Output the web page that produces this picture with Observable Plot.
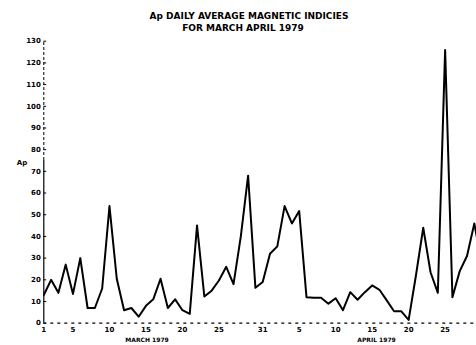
<!DOCTYPE html>
<html><head><meta charset="utf-8">
<script src="https://cdn.jsdelivr.net/npm/d3@7"></script>
<script src="https://cdn.jsdelivr.net/npm/@observablehq/plot@0.6"></script>
<style>
body{margin:0;background:#fff;}
#wrap{position:relative;width:476px;height:345px;overflow:hidden;font-family:"DejaVu Sans",sans-serif;}
.t{position:absolute;transform:translateX(-50%);white-space:nowrap;font-weight:bold;font-size:9px;line-height:10px;color:#000;}
#chart{position:absolute;left:0;top:34px;}
</style></head><body>
<div id="wrap">
<div class="t" style="left:249px;top:11px">Ap DAILY AVERAGE MAGNETIC INDICIES</div>
<div class="t" style="left:243px;top:23px">FOR MARCH APRIL 1979</div>
<div id="chart"></div>
</div>
<script>
// Ap daily values, March 1979 (days 1..31)
const march = [13,20,14,27,13.5,30,7,7,16,54,20.5,6,7,3,8,11,20.5,7,11,6,4.3,45,12.3,15,19.7,26,18,40,68,16.3,19];
// Ap daily values, April 1979 (days 1..30)
const april = [32,35.4,54,46,51.7,12,11.7,11.7,9,11.5,6,14.3,10.8,14.3,17.4,15.4,10.5,5.5,5.5,1.5,22,44,23.5,14,126,12,24,31,46,28];
// tick positions (day index from March 1) and labels
const xTickDays = [0,4,9,14,19,24,30,35,40,45,50,55];
const xTickLabels = ["1","5","10","15","20","25","31","5","10","15","20","25"];
const yTicks = [0,10,20,30,40,50,60,70,80,90,100,110,120,130];
const monthNames = ["MARCH 1979","APRIL 1979"];
const monthCenters = [14.15,45.6];

const data = [
  ...march.map((v,i)=>({day:i, ap:v})),
  ...april.map((v,i)=>({day:31+i, ap:v}))
];
const labelByDay = new Map(xTickDays.map((d,i)=>[d,xTickLabels[i]]));
const months = monthNames.map((n,i)=>({label:n, day:monthCenters[i]}));

const chart = Plot.plot({
  width:476, height:311,
  marginLeft:43.3, marginRight:0, marginTop:6.7, marginBottom:22.3,
  x:{domain:[0,59.3]},
  y:{domain:[0,130]},
  style:{fontFamily:"DejaVu Sans", fontSize:"7px", fontWeight:"bold", color:"#000", background:"#fff", overflow:"visible"},
  marks:[
    Plot.ruleX([0],{y1:75,y2:130,strokeDasharray:"3,2",strokeWidth:1}),
    Plot.ruleX([0],{y1:0,y2:75,strokeWidth:1.2}),
    Plot.ruleY([0],{strokeDasharray:"3,4",strokeWidth:1.2}),
    Plot.axisY({ticks:yTicks, tickSize:0, tickPadding:3, label:null, tickFormat:d=>String(d)}),
    Plot.ruleY(yTicks,{x1:0,x2:0.4,strokeWidth:1}),
    Plot.axisX({ticks:xTickDays, tickFormat:d=>labelByDay.get(d), tickSize:0, tickPadding:4, label:null}),
    Plot.line(data,{x:"day",y:"ap",stroke:"#000",strokeWidth:2,clip:true}),
    Plot.text([{y:74,t:"Ap"}],{y:"y",text:"t",frameAnchor:"left",dx:-27,fontSize:7}),
    Plot.text(months,{x:"day",text:"label",frameAnchor:"bottom",dy:19,fontSize:6})
  ]
});
document.getElementById("chart").appendChild(chart);
</script>
</body></html>
